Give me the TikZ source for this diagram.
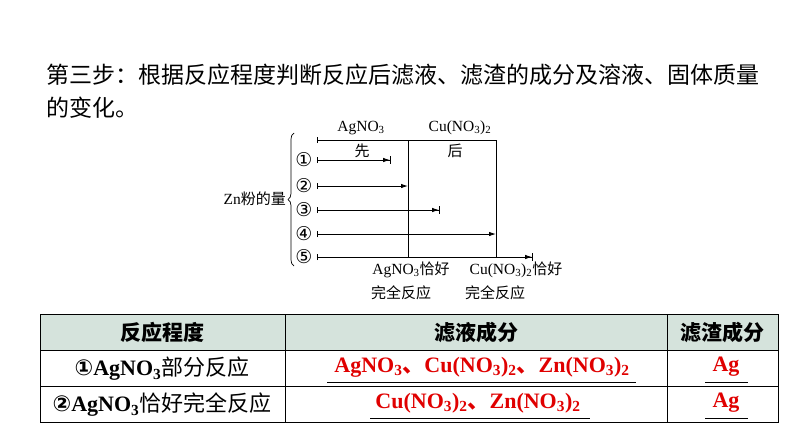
\documentclass[tikz,border=0pt]{standalone}
\usepackage{fontspec}
\setmainfont{Liberation Serif}
\newfontfamily\cjk{Noto Sans CJK SC}
\newfontfamily\djv{DejaVu Sans}
\usetikzlibrary{decorations.pathreplacing,arrows.meta}
\definecolor{hdr}{HTML}{D5E3DC}
\definecolor{rd}{HTML}{E00000}
\tikzset{ln/.style={line width=0.9pt},
 arr/.style={ln,{Bar[width=6pt]}-{Latex[length=7pt,width=4.5pt]}},
 arrb/.style={ln,{Bar[width=6pt]}-{Latex[length=7pt,width=4.5pt]Bar[width=8pt]}},
 sm/.style={font=\fontsize{15.5}{17}\selectfont,inner sep=1pt},
 smc/.style={font=\cjk\fontsize{15}{17}\selectfont,inner sep=1pt},
 tb/.style={font=\fontsize{22}{24}\selectfont\bfseries,inner sep=1pt},
 red/.style={tb,text=rd}}
\begin{document}
\begin{tikzpicture}[x=1pt,y=-1pt]
\useasboundingbox (0,0) rectangle (794,447);
\fill[white] (0,0) rectangle (794,447);
\node[anchor=west,font=\cjk\fontsize{23}{25}\selectfont,inner sep=0] (t1) at (46,75) {第三步：根据反应程度判断反应后滤液、滤渣的成分及溶液、固体质量};
\node[anchor=west,font=\cjk\fontsize{23}{25}\selectfont,inner sep=0] (t2) at (46,108) {的变化。};
% diagram
\coordinate (s0) at (317,140); \coordinate (a0) at (408,140); \coordinate (b0) at (496,140);
\coordinate (a5) at (408,257); \coordinate (b5) at (496,257);
\draw[ln,{Bar[width=6pt]}-] (s0) -- (b0);
\draw[ln] (a0) -- (a5); \draw[ln] (b0) -- (b5);
\foreach \i/\y/\e/\s/\c in {1/160/391/arrb/①,2/186/408/arr/②,3/210/440/arrb/③,4/234/496/arr/④,5/257/533/arrb/⑤}{
 \coordinate (r\i) at (317,\y); \coordinate (e\i) at (\e,\y);
 \draw[\s] (r\i) -- (e\i);
 \node[font=\djv\fontsize{19}{19}\selectfont,inner sep=0] (c\i) at (304,\y) {\c};
}
\draw[line width=0.7pt,decorate,decoration={brace,amplitude=6pt}] (294,266) -- (294,133);
\node[sm,anchor=east] (zn) at (287,199) {Zn{\cjk\fontsize{15}{17}\selectfont 粉的量}};
\node[sm] (ag) at (361,128) {AgNO\textsubscript{3}};
\node[sm] (cu) at (460,128) {Cu(NO\textsubscript{3})\textsubscript{2}};
\node[smc] (xian) at (362,151) {先};
\node[smc] (hou) at (455,151) {后};
\node[sm] (l1) at (411,270) {AgNO\textsubscript{3}{\cjk\fontsize{15}{17}\selectfont 恰好}};
\node[smc] (l2) at (401,293) {完全反应};
\node[sm] (l3) at (516,270) {Cu(NO\textsubscript{3})\textsubscript{2}{\cjk\fontsize{15}{17}\selectfont 恰好}};
\node[smc] (l4) at (495,293) {完全反应};
% table
\fill[hdr] (40,314) rectangle (778,350);
\draw[line width=0.8pt] (40,314) rectangle (778,422);
\draw[line width=0.8pt] (40,350) -- (778,350) (40,386) -- (778,386) (285,314) -- (285,422) (667,314) -- (667,422);
\node[font=\cjk\bfseries\fontsize{21}{23}\selectfont] (h1) at (162,332) {反应程度};
\node[font=\cjk\bfseries\fontsize{21}{23}\selectfont] (h2) at (476,332) {滤液成分};
\node[font=\cjk\bfseries\fontsize{21}{23}\selectfont] (h3) at (722,332) {滤渣成分};
\node[tb] (p1) at (162,369) {{\djv ①}AgNO\textsubscript{3}{\cjk\mdseries 部分反应}};
\node[tb] (p2) at (162,405) {{\djv ②}AgNO\textsubscript{3}{\cjk\mdseries 恰好完全反应}};
\node[red] (f1) at (482,367) {AgNO\textsubscript{3}{\cjk 、}Cu(NO\textsubscript{3})\textsubscript{2}{\cjk 、}Zn(NO\textsubscript{3})\textsubscript{2}};
\node[red] (f2) at (478,403) {Cu(NO\textsubscript{3})\textsubscript{2}{\cjk 、}Zn(NO\textsubscript{3})\textsubscript{2}};
\node[red] (g1) at (726,367) {Ag};
\node[red] (g2) at (726,403) {Ag};
\draw[line width=0.8pt] (327,382) -- (636,382) (370,418) -- (590,418) (705,382) -- (748,382) (705,418) -- (748,418);
\end{tikzpicture}
\end{document}
